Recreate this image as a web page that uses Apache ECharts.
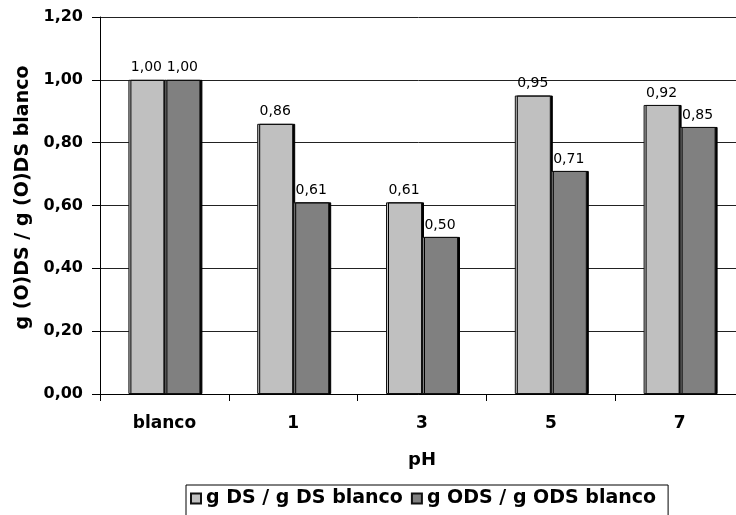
<!DOCTYPE html>
<html>
<head>
<meta charset="utf-8">
<script src="https://cdn.jsdelivr.net/npm/echarts@6/dist/echarts.min.js"></script>
<style>
html,body{margin:0;padding:0;background:#fff;}
#chart{width:736px;height:515px;}
</style>
</head>
<body>
<div id="chart"></div>
<script>
const categories = ['blanco', '1', '3', '5', '7'];
const dsValues = [1.00, 0.86, 0.61, 0.95, 0.92];
const odsValues = [1.00, 0.61, 0.50, 0.71, 0.85];
const seriesNames = ['g DS / g DS blanco', 'g ODS / g ODS blanco'];
const xAxisTitle = 'pH';
const yAxisTitle = 'g (O)DS / g (O)DS blanco';

const FONT = '"DejaVu Sans", sans-serif';
const fmt = v => v.toFixed(2).replace('.', ',');

const chart = echarts.init(document.getElementById('chart'), null, {renderer: 'canvas'});

function barSeries(name, data, color) {
  return {
    name: name,
    type: 'bar',
    data: data,
    barWidth: 36,
    barGap: '0%',
    itemStyle: {
      color: color,
      borderColor: '#111',
      borderWidth: 1,
      shadowColor: '#000',
      shadowOffsetX: 2,
      shadowOffsetY: 0,
      shadowBlur: 0
    },
    label: {
      show: true,
      position: 'top',
      distance: 5,
      fontFamily: FONT,
      fontSize: 14,
      color: '#000',
      formatter: p => fmt(p.value)
    }
  };
}

chart.setOption({
  animation: false,
  backgroundColor: '#fff',
  grid: {left: 100, width: 644, top: 17, bottom: 121, containLabel: false, outerBoundsMode: 'none'},
  legend: {
    left: 186,
    top: 485,
    data: seriesNames,
    icon: 'rect',
    itemWidth: 10,
    itemHeight: 10,
    itemGap: 8,
    borderColor: '#000',
    borderWidth: 1,
    padding: [4, 12, 8, 4],
    textStyle: {fontFamily: FONT, fontWeight: 'bold', fontSize: 19, color: '#000'}
  },
  xAxis: {
    type: 'category',
    data: categories,
    name: xAxisTitle,
    nameLocation: 'middle',
    nameGap: 57,
    nameTextStyle: {fontFamily: FONT, fontWeight: 'bold', fontSize: 18, color: '#000'},
    axisLine: {lineStyle: {color: '#000', width: 1}},
    axisTick: {show: true, length: 7, lineStyle: {color: '#000'}},
    axisLabel: {margin: 21, fontFamily: FONT, fontWeight: 'bold', fontSize: 17, color: '#000'}
  },
  yAxis: {
    type: 'value',
    min: 0,
    max: 1.2,
    interval: 0.2,
    name: yAxisTitle,
    nameLocation: 'middle',
    nameGap: 65,
    nameTextStyle: {fontFamily: FONT, fontWeight: 'bold', fontSize: 19, color: '#000', padding: [0, 0, 0, 16]},
    axisLine: {show: true, lineStyle: {color: '#000', width: 1}},
    axisTick: {show: true, length: 8, lineStyle: {color: '#000'}},
    axisLabel: {margin: 17, fontFamily: FONT, fontWeight: 'bold', fontSize: 16, color: '#000', formatter: v => fmt(v)},
    splitLine: {show: true, lineStyle: {color: '#222', width: 1}}
  },
  series: [
    barSeries(seriesNames[0], dsValues, '#c0c0c0'),
    barSeries(seriesNames[1], odsValues, '#808080')
  ]
});
</script>
</body>
</html>
